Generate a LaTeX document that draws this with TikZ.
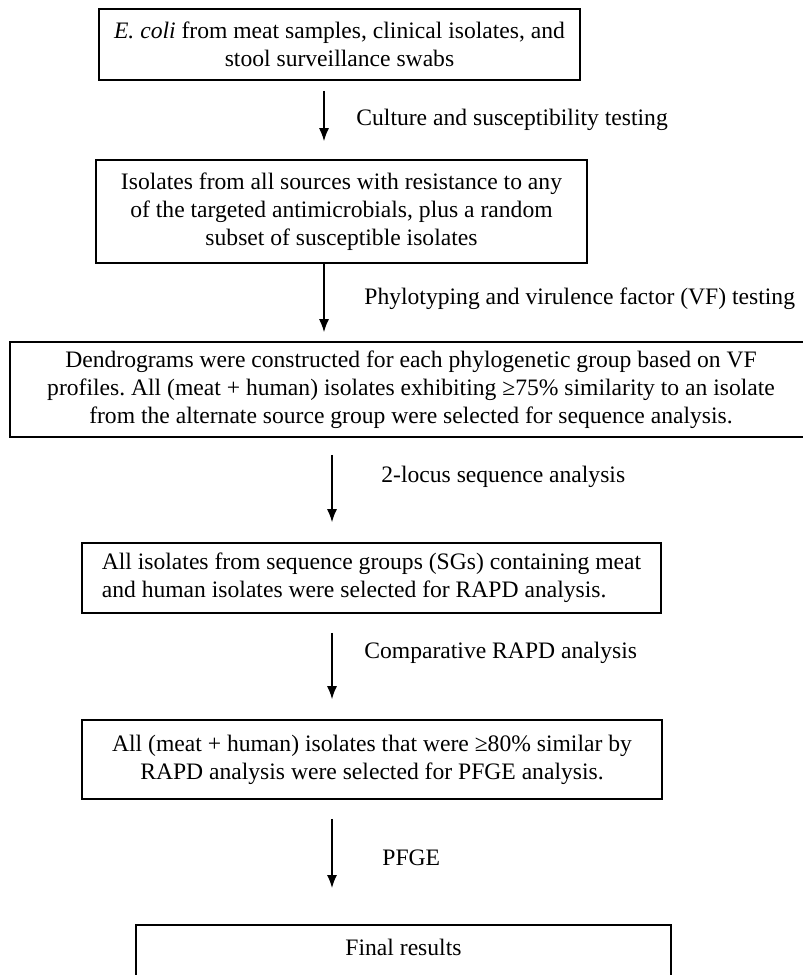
\documentclass[tikz,border=0pt]{standalone}
\usepackage{fontspec}
\setmainfont{Liberation Serif}
\usetikzlibrary{arrows.meta}
\frenchspacing

\begin{document}
\begin{tikzpicture}[x=0.5pt,y=0.5pt,
  box/.style={draw,line width=0.8pt,align=center,inner sep=0pt,font=\fontsize{11.8}{14}\selectfont},
  lab/.style={anchor=west,inner sep=0pt,font=\fontsize{11.8}{14}\selectfont},
  flow/.style={-{Latex[length=6.5pt,width=5pt]},line width=0.7pt}]
\useasboundingbox (0,0) rectangle (803,-975);
\clip (0,0) rectangle (803,-975);
% columns of the arrows
\coordinate (colA) at (324,0);
\coordinate (colB) at (332,0);

\node[box,minimum width=240.5pt,minimum height=35.5pt] (src) at (339.5,-44.5) {\textit{E. coli} from meat samples, clinical isolates, and\\stool surveillance swabs};
\node[box,minimum width=245.5pt,minimum height=51.5pt] (res) at (341.5,-211.5) {Isolates from all sources with resistance to any\\of the targeted antimicrobials, plus a random\\subset of susceptible isolates};
\node[box,minimum width=401pt,minimum height=47.5pt] (dend) at (411,-389.5) {Dendrograms were constructed for each phylogenetic group based on VF\\profiles. All (meat + human) isolates exhibiting ≥75\% similarity to an isolate\\from the alternate source group were selected for sequence analysis.};
\node[box,align=left,minimum width=289.5pt,minimum height=35pt] (sg) at (371.5,-578) {All isolates from sequence groups (SGs) containing meat\\and human isolates were selected for RAPD analysis.};
\node[box,minimum width=290pt,minimum height=39.5pt] (rapd) at (372,-759.5) {All (meat + human) isolates that were ≥80\% similar by\\RAPD analysis were selected for PFGE analysis.};
\node[box,anchor=north,minimum width=267.5pt,minimum height=50pt] (fin) at (403.5,-924) {};
\node[lab,anchor=center] (finlab) at ([yshift=-11.5pt]fin.north) {Final results};

% steps
\node[lab] (l1) at (356,-120) {Culture and susceptibility testing};
\node[lab] (l2) at (364,-299) {Phylotyping and virulence factor (VF) testing};
\node[lab] (l3) at (381,-477) {2-locus sequence analysis};
\node[lab] (l4) at (364,-653) {Comparative RAPD analysis};
\node[lab] (l5) at (382,-858) {PFGE};

\draw[flow,shorten <=5pt,shorten >=9pt] (src.south -| colA) -- (res.north -| colA);
\draw[flow,shorten >=4.5pt] (res.south -| colA) -- (dend.north -| colA);
\draw[flow,shorten <=8.5pt,shorten >=10pt] (dend.south -| colB) -- (sg.north -| colB);
\draw[flow,shorten <=9.5pt,shorten >=10pt] (sg.south -| colB) -- (rapd.north -| colB);
\draw[flow,shorten <=9.5pt,shorten >=18pt] (rapd.south -| colB) -- (fin.north -| colB);
\end{tikzpicture}
\end{document}
